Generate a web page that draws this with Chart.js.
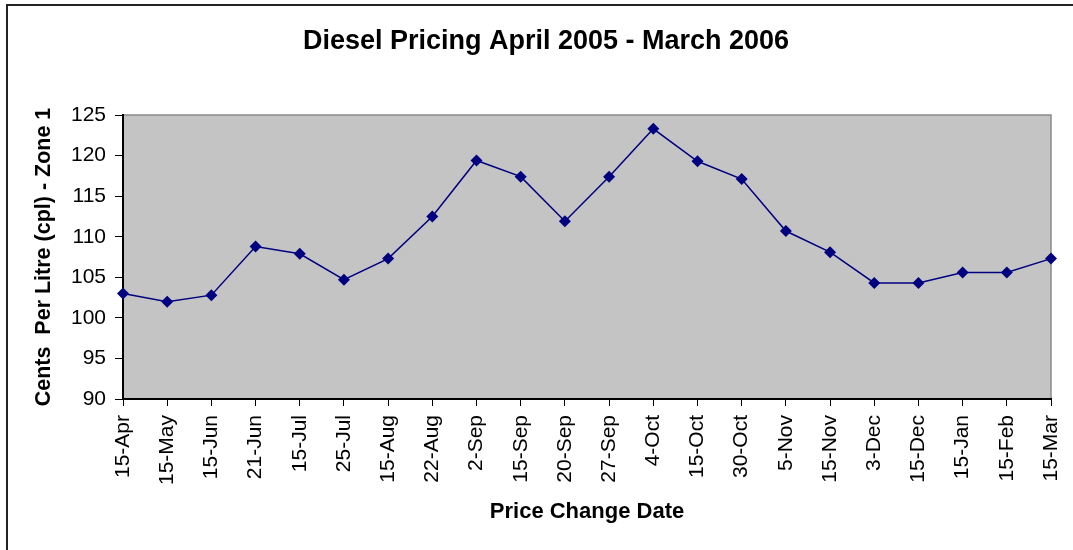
<!DOCTYPE html>
<html>
<head>
<meta charset="utf-8">
<script src="https://cdn.jsdelivr.net/npm/chart.js@4/dist/chart.umd.min.js"></script>
<style>
  body { margin: 0; background: #fff; }
  #wrap { width: 1073px; height: 550px; }
</style>
</head>
<body>
<div id="wrap"><canvas id="myChart" width="1073" height="550"></canvas></div>
<script>
const dates = ['15-Apr', '15-May', '15-Jun', '21-Jun', '15-Jul', '25-Jul', '15-Aug', '22-Aug',
  '2-Sep', '15-Sep', '20-Sep', '27-Sep', '4-Oct', '15-Oct', '30-Oct', '5-Nov', '15-Nov',
  '3-Dec', '15-Dec', '15-Jan', '15-Feb', '15-Mar'];
const prices = [103.0, 102.0, 102.8, 108.8, 107.9, 104.7, 107.3, 112.5, 119.4, 117.4, 111.9,
  117.4, 123.3, 119.3, 117.1, 110.7, 108.1, 104.3, 104.3, 105.6, 105.6, 107.3];
const yTicks = [90, 95, 100, 105, 110, 115, 120, 125];

const FONT = '"Liberation Sans", Arial, sans-serif';

// grey plot area plus the outer frame of the sheet
const plotBg = {
  id: 'plotBg',
  beforeDraw(chart) {
    const { ctx, chartArea: a } = chart;
    ctx.save();
    ctx.strokeStyle = '#222';
    ctx.lineWidth = 2;
    ctx.beginPath();
    ctx.moveTo(7, 560);
    ctx.lineTo(7, 5);
    ctx.lineTo(1080, 5);
    ctx.stroke();
    ctx.fillStyle = '#c4c4c4';
    ctx.fillRect(a.left, a.top, a.right - a.left, a.bottom - a.top);
    ctx.strokeStyle = '#8a8a8a';
    ctx.lineWidth = 1.5;
    ctx.beginPath();
    ctx.moveTo(a.left, a.top);
    ctx.lineTo(a.right, a.top);
    ctx.lineTo(a.right, a.bottom);
    ctx.stroke();
    ctx.restore();
  }
};

const ctx = document.getElementById('myChart').getContext('2d');
const myChart = new Chart(ctx, {
  type: 'line',
  data: {
    labels: dates,
    datasets: [{
      label: 'Diesel',
      data: prices,
      borderColor: '#000080',
      backgroundColor: '#000080',
      borderWidth: 1.5,
      pointStyle: 'rectRot',
      pointRadius: 6,
      pointBorderWidth: 0,
      tension: 0,
    }],
  },
  options: {
    responsive: false,
    animation: false,
    layout: { padding: { left: 41, right: 22, top: 0, bottom: 0 } },
    plugins: {
      legend: { display: false },
      tooltip: { enabled: false },
      title: {
        display: true,
        text: 'Diesel Pricing April 2005 - March 2006',
        color: '#000',
        font: { family: FONT, size: 27, weight: 'bold' },
        padding: { top: 25, bottom: 57.6 },
      },
    },
    scales: {
      x: {
        offset: false,
        grid: { display: true, drawOnChartArea: false, drawTicks: true, tickLength: 7, color: '#000', offset: false },
        border: { color: '#000', width: 2 },
        ticks: {
          color: '#000',
          font: { family: FONT, size: 21 },
          maxRotation: 90,
          minRotation: 90,
          padding: 9,
          autoSkip: false,
        },
        title: {
          display: true,
          text: 'Price Change Date',
          color: '#000',
          font: { family: FONT, size: 22, weight: 'bold' },
          padding: { top: 0, bottom: 25 },
        },
        afterFit: (s) => { s.height = 151; s.paddingLeft = 0; s.paddingRight = 0; },
      },
      y: {
        min: 90,
        max: 125,
        afterBuildTicks: (s) => { s.ticks = yTicks.map((v) => ({ value: v })); },
        grid: { display: true, drawOnChartArea: false, drawTicks: true, tickLength: 8, color: '#000' },
        border: { color: '#000', width: 2 },
        ticks: {
          color: '#000',
          font: { family: FONT, size: 21 },
          padding: 9,
        },
        title: {
          display: true,
          text: 'Cents  Per Litre (cpl) - Zone 1',
          color: '#000',
          font: { family: FONT, size: 21.5, weight: 'bold' },
          padding: { top: -10, bottom: 0 },
        },
        afterFit: (s) => { s.width = 82; },
      },
    },
  },
  plugins: [plotBg],
});
</script>
</body>
</html>
